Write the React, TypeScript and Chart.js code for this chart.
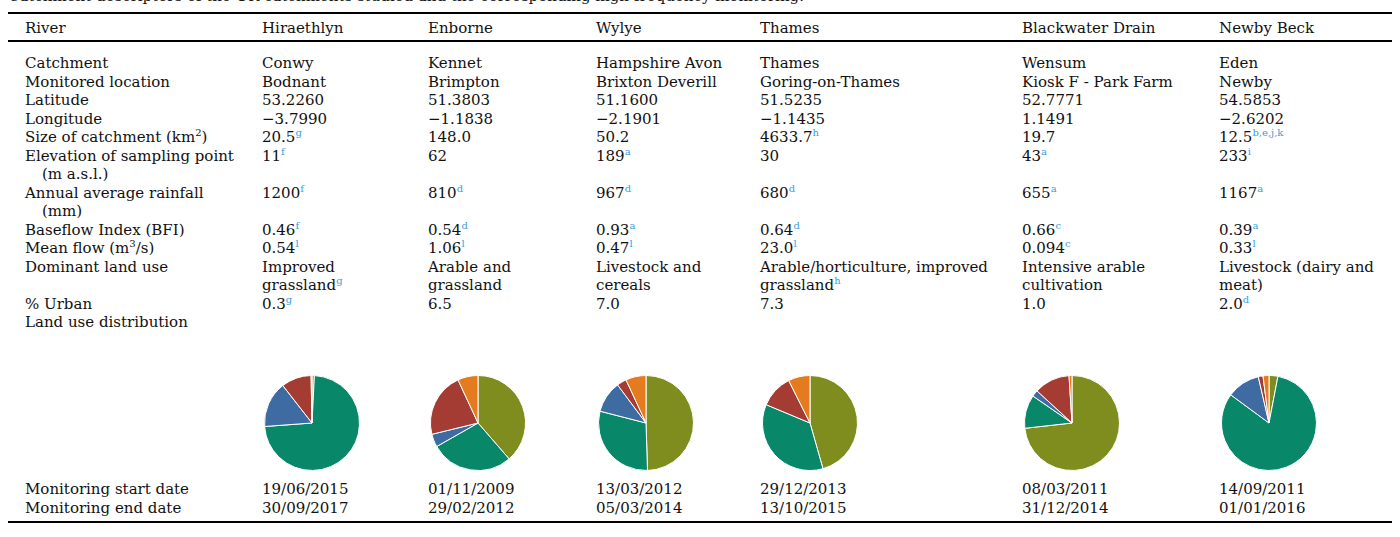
import React, { useEffect, useRef } from "react";
import { Chart, registerables } from "chart.js";
Chart.register(...registerables);

// ---------- data ----------
const caption =
  "Catchment descriptors of the UK catchments studied and the corresponding high-frequency monitoring.";
const rivers = ["Hiraethlyn", "Enborne", "Wylye", "Thames", "Blackwater Drain", "Newby Beck"];
const catchments = ["Conwy", "Kennet", "Hampshire Avon", "Thames", "Wensum", "Eden"];
const locations = ["Bodnant", "Brimpton", "Brixton Deverill", "Goring-on-Thames", "Kiosk F - Park Farm", "Newby"];
const latitudes = ["53.2260", "51.3803", "51.1600", "51.5235", "52.7771", "54.5853"];
const longitudes = ["\u22123.7990", "\u22121.1838", "\u22122.1901", "\u22121.1435", "1.1491", "\u22122.6202"];
const catchmentSize = ["20.5", "148.0", "50.2", "4633.7", "19.7", "12.5"];
const catchmentSizeRef = ["g", "", "", "h", "", "b,e,j,k"];
const elevation = ["11", "62", "189", "30", "43", "233"];
const elevationRef = ["f", "", "a", "", "a", "i"];
const rainfall = ["1200", "810", "967", "680", "655", "1167"];
const rainfallRef = ["f", "d", "d", "d", "a", "a"];
const bfi = ["0.46", "0.54", "0.93", "0.64", "0.66", "0.39"];
const bfiRef = ["f", "d", "a", "d", "c", "a"];
const meanFlow = ["0.54", "1.06", "0.47", "23.0", "0.094", "0.33"];
const meanFlowRef = ["l", "l", "l", "l", "c", "l"];
const landUseLine1 = ["Improved", "Arable and", "Livestock and", "Arable/horticulture, improved", "Intensive arable", "Livestock (dairy and"];
const landUseLine2 = ["grassland", "grassland", "cereals", "grassland", "cultivation", "meat)"];
const landUseRef = ["g", "", "", "h", "", ""];
const urban = ["0.3", "6.5", "7.0", "7.3", "1.0", "2.0"];
const urbanRef = ["g", "", "", "", "", "d"];
const startDates = ["19/06/2015", "01/11/2009", "13/03/2012", "29/12/2013", "08/03/2011", "14/09/2011"];
const endDates = ["30/09/2017", "29/02/2012", "05/03/2014", "13/10/2015", "31/12/2014", "01/01/2016"];

// land use distribution (%), per catchment
const landUseCategories = ["Arable", "Grassland", "Semi-natural", "Woodland", "Urban"];
const luHiraethlyn = [0.8, 72.8, 15.6, 10.2, 0.3];
const luEnborne = [38.6, 28.1, 4.4, 21.9, 6.9];
const luWylye = [49.5, 29.5, 10.8, 3.3, 6.9];
const luThames = [45.6, 35.7, 0, 11.3, 7.4];
const luBlackwater = [73.3, 11.4, 2.2, 12.2, 1.0];
const luNewby = [3.0, 81.5, 11.2, 1.6, 2.0];
const landUse = [luHiraethlyn, luEnborne, luWylye, luThames, luBlackwater, luNewby];

// ---------- styles / layout ----------
const sliceColors = ["#7f8d1e", "#098869", "#3d6ba2", "#a53c33", "#e47b1f"];
const FONT = '"DejaVu Serif", "Liberation Serif", serif';
const FS = 15;
const SUP = "#3a9dd8";
const COL_X = [25, 262, 428, 596, 760, 1022, 1219];
const ROW0 = 63;
const STEP = 18.5;
const rowY = (i: number) => ROW0 + STEP * i;

function Txt({ x, y, children }: { x: number; y: number; children: React.ReactNode }) {
  return (
    <div
      style={{
        position: "absolute",
        left: x,
        top: y - 9,
        height: 18,
        lineHeight: "18px",
        fontFamily: FONT,
        fontSize: FS,
        color: "#111",
        whiteSpace: "nowrap",
      }}
    >
      {children}
    </div>
  );
}

function Sup({ t, color = SUP }: { t: string; color?: string }) {
  if (!t) return null;
  return (
    <span style={{ fontSize: 10, color, position: "relative", top: -6, lineHeight: 0 }}>{t}</span>
  );
}

function Pie({ values, cx, cy }: { values: number[]; cx: number; cy: number }) {
  const ref = useRef<HTMLCanvasElement | null>(null);
  useEffect(() => {
    if (!ref.current) return;
    const chart = new Chart(ref.current, {
      type: "pie",
      data: {
        labels: landUseCategories,
        datasets: [
          {
            data: values,
            backgroundColor: sliceColors,
            borderColor: "#ffffff",
            borderWidth: 1,
          },
        ],
      },
      options: {
        responsive: false,
        animation: false,
        layout: { padding: 0 },
        plugins: { legend: { display: false }, tooltip: { enabled: false } },
      },
    });
    return () => chart.destroy();
  }, [values]);
  const S = 96;
  return (
    <canvas
      ref={ref}
      width={S}
      height={S}
      style={{ position: "absolute", left: cx - S / 2, top: cy - S / 2, width: S, height: S }}
    />
  );
}

export default function App() {
  const rows: { label: string; vals: string[]; refs?: string[]; line: number }[] = [
    { label: "Catchment", vals: catchments, line: 0 },
    { label: "Monitored location", vals: locations, line: 1 },
    { label: "Latitude", vals: latitudes, line: 2 },
    { label: "Longitude", vals: longitudes, line: 3 },
    { label: "", vals: catchmentSize, refs: catchmentSizeRef, line: 4 },
    { label: "Elevation of sampling point", vals: elevation, refs: elevationRef, line: 5 },
    { label: "Annual average rainfall", vals: rainfall, refs: rainfallRef, line: 7 },
    { label: "Baseflow Index (BFI)", vals: bfi, refs: bfiRef, line: 9 },
    { label: "", vals: meanFlow, refs: meanFlowRef, line: 10 },
    { label: "Dominant land use", vals: landUseLine1, line: 11 },
    { label: "% Urban", vals: urban, refs: urbanRef, line: 13 },
  ];
  const hr = (y: number) => (
    <div style={{ position: "absolute", left: 8, width: 1384, top: y, height: 2, background: "#000" }} />
  );
  return (
    <div
      style={{
        position: "absolute",
        left: 0,
        top: 0,
        width: 1400,
        height: 537,
        overflow: "hidden",
        background: "#fff",
      }}
    >
      <div
        style={{
          position: "absolute",
          left: 8,
          top: -13,
          fontFamily: FONT,
          fontSize: FS,
          lineHeight: "18px",
          whiteSpace: "nowrap",
          color: "#111",
        }}
      >
        {caption}
      </div>
      {hr(12)}
      <Txt x={COL_X[0]} y={28}>River</Txt>
      {rivers.map((r, i) => (
        <Txt key={"h" + i} x={COL_X[i + 1]} y={28}>{r}</Txt>
      ))}
      {hr(40)}

      {rows.map((row, ri) => (
        <React.Fragment key={"r" + ri}>
          {row.label && (
            <Txt x={COL_X[0]} y={rowY(row.line)}>{row.label}</Txt>
          )}
          {row.vals.map((v, i) => (
            <Txt key={i} x={COL_X[i + 1]} y={rowY(row.line)}>
              {v}
              {row.refs && <Sup t={row.refs[i]} />}
            </Txt>
          ))}
        </React.Fragment>
      ))}
      <Txt x={COL_X[0]} y={rowY(4)}>
        Size of catchment (km<Sup t="2" color="#111" />)
      </Txt>
      <Txt x={COL_X[0] + 17} y={rowY(6)}>(m a.s.l.)</Txt>
      <Txt x={COL_X[0] + 17} y={rowY(8)}>(mm)</Txt>
      <Txt x={COL_X[0]} y={rowY(10)}>
        Mean flow (m<Sup t="3" color="#111" />/s)
      </Txt>
      {landUseLine2.map((v, i) => (
        <Txt key={"lu2" + i} x={COL_X[i + 1]} y={rowY(12)}>
          {v}
          <Sup t={landUseRef[i]} />
        </Txt>
      ))}
      <Txt x={COL_X[0]} y={rowY(14)}>Land use distribution</Txt>
      {landUse.map((vals, i) => (
        <Pie key={"p" + i} values={vals} cx={COL_X[i + 1] + 50} cy={423} />
      ))}
      <Txt x={COL_X[0]} y={489}>Monitoring start date</Txt>
      {startDates.map((d, i) => (
        <Txt key={"s" + i} x={COL_X[i + 1]} y={489}>{d}</Txt>
      ))}
      <Txt x={COL_X[0]} y={507.5}>Monitoring end date</Txt>
      {endDates.map((d, i) => (
        <Txt key={"e" + i} x={COL_X[i + 1]} y={507.5}>{d}</Txt>
      ))}
      {hr(521)}
    </div>
  );
}
